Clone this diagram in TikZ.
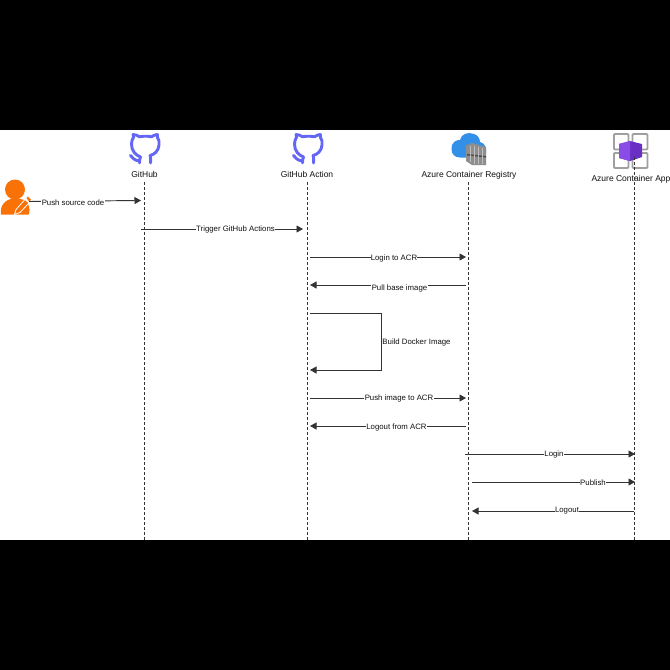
\documentclass[tikz,border=0pt]{standalone}
\usepackage{fontspec}
\setmainfont{Liberation Sans}
\usetikzlibrary{arrows.meta}
\definecolor{ghblue}{HTML}{6466F5}
\definecolor{userorange}{HTML}{F97208}
\definecolor{cloudblue}{HTML}{3290E8}
\definecolor{boxgrey}{HTML}{8E8E8E}
\definecolor{framegrey}{HTML}{A0A0A0}
\definecolor{cubelight}{HTML}{8A4CE6}
\definecolor{cubedark}{HTML}{6A30C4}
\definecolor{textgrey}{HTML}{111111}
\tikzset{
  lifeline/.style={draw=black!80,line width=0.8pt,dash pattern=on 2.5pt off 2.5pt},
  msg/.style={draw=black!80,line width=0.95pt,-{Triangle[length=6.5pt,width=7pt]}},
  lbl/.style={font=\fontsize{7.8}{10}\selectfont,text=textgrey,fill=white,inner sep=0.3pt},
  actor/.style={font=\fontsize{8.5}{10}\selectfont,text=textgrey,inner sep=0pt},
  ghstroke/.style={draw=ghblue,line width=2.9pt,line cap=round,line join=round},
}
\newcommand{\ghicon}[2]{%
  \begin{scope}[shift={(#1,#2)}]
    \draw[ghstroke] (10,24) .. controls (5,22) and (1,18) .. (1,11) .. controls (1,8) and (2,6) .. (3,4.5) -- (2.6,1.5)
      .. controls (5,1.5) and (7,2.5) .. (9,3.8) .. controls (12,3) and (18,3) .. (21,3.8) .. controls (23,2.5) and (25,1.5) .. (26.8,1.5)
      -- (27,4.5) .. controls (28.5,6.5) and (29,9) .. (28.5,12) .. controls (28,18) and (24,21.5) .. (19.5,22.5)
      .. controls (20.5,24) and (20.2,26) .. (20,30);
    \draw[ghstroke] (10,24) .. controls (9,26) and (9,28) .. (9,30);
    \draw[ghstroke] (0,22.5) .. controls (2,25) and (4,27.5) .. (9,28);
  \end{scope}}
\begin{document}
\begin{tikzpicture}[x=1pt,y=-1pt]
\useasboundingbox (0,0) rectangle (670,670);
\fill[black] (0,0) rectangle (670,670);
\fill[white] (0,130) rectangle (670,540);

% lifelines
\coordinate (gbTop) at (144,182);   \coordinate (gbEnd) at (144,540);
\coordinate (gaTop) at (307,182);   \coordinate (gaEnd) at (307,540);
\coordinate (acrTop) at (468,182);  \coordinate (acrEnd) at (468,540);
\coordinate (appTop) at (634,157);  \coordinate (appEnd) at (634,540);

% icons
\ghicon{130.5}{133}
\ghicon{293.5}{133}

% user
\fill[userorange] (15,189.5) circle (10);
\fill[userorange] (1,214.5) .. controls (-0.5,206) and (5,198.5) .. (15,198.5)
  .. controls (22,198.5) and (26,200) .. (28,204) .. controls (30,208) and (30,212) .. (28.5,214.5) -- cycle;
\filldraw[draw=white,fill=userorange,line width=0.8pt] (14.5,214.5) -- (16,209.5) -- (25,199.5) -- (29,203) -- (20,212.5) -- cycle;
\fill[userorange] (26.5,198) -- (28,196.5) -- (31,199.5) -- (29.5,202) -- cycle;

% registry
\fill[cloudblue] (451.5,149) .. controls (451,143) and (456,139.5) .. (460,140)
  .. controls (461,134) and (468,131.5) .. (474,134) .. controls (478,135) and (480,139) .. (480,142)
  .. controls (485,143) and (487,148) .. (486,154) -- (485,158) -- (460,157.5) .. controls (454.5,157.5) and (451.5,154) .. (451.5,149) -- cycle;
\fill[boxgrey] (466,145.5) -- (472,143) -- (486,147) -- (486,165) -- (472,165) -- (466,161) -- cycle;
\fill[black!70] (467,154) -- (486,156) -- (486,157.5) -- (467,155.5) -- cycle;
\draw[black!25,line width=0.3pt] (470,146) -- (470,162) (474,146) -- (474,164) (478,147) -- (478,164) (482,148) -- (482,164);

% container app
\draw[framegrey,line width=1.9pt,rounded corners=1pt] (614,134) rectangle (628.5,149.5);
\draw[framegrey,line width=1.9pt,rounded corners=1pt] (632.5,134) rectangle (647.5,149.5);
\draw[framegrey,line width=1.9pt,rounded corners=1pt] (614,153) rectangle (628.5,168);
\draw[framegrey,line width=1.9pt,rounded corners=1pt] (632.5,153) rectangle (647.5,168);
\fill[cubedark] (619,144) -- (630,141) -- (642,144) -- (642,157) -- (630,161) -- (619,158) -- cycle;
\fill[cubelight] (619,144) -- (630,141) -- (630,161) -- (619,158) -- cycle;

% actor labels
\node[actor] (gb) at (144.5,174.5) {GitHub};
\node[actor] (ga) at (307,174.5) {GitHub Action};
\node[actor] (acr) at (469,174.8) {Azure Container Registry};
\node[actor] (app) at (631,179) {Azure Container App};

\draw[lifeline] (gbTop) -- (gbEnd);
\draw[lifeline] (gaTop) -- (gaEnd);
\draw[lifeline] (acrTop) -- (acrEnd);
\draw[lifeline] (appTop) -- (appEnd);

% message end points
\coordinate (userR) at (29,201.5);   \coordinate (m1e) at (141,200.5);
\coordinate (m2s) at (141,229);      \coordinate (m2e) at (303,229);
\coordinate (m3s) at (310,257);      \coordinate (m3e) at (466,257);
\coordinate (m4s) at (466,285);      \coordinate (m4e) at (310,285);
\coordinate (m5s) at (310,313);      \coordinate (m5a) at (381,313);
\coordinate (m5b) at (381,370);      \coordinate (m5e) at (310,370);
\coordinate (m6s) at (310,398);      \coordinate (m6e) at (466,398);
\coordinate (m7s) at (466,426);      \coordinate (m7e) at (310,426);
\coordinate (m8s) at (465,454);      \coordinate (m8e) at (635,454);
\coordinate (m9s) at (472,482);      \coordinate (m9e) at (635,482);
\coordinate (m10s) at (634,511);     \coordinate (m10e) at (472,511);

\draw[msg] (userR) -- (m1e);
\draw[msg] (m2s) -- (m2e);
\draw[msg] (m3s) -- (m3e);
\draw[msg] (m4s) -- (m4e);
\draw[msg] (m5s) -- (m5a) -- (m5b) -- (m5e);
\draw[msg] (m6s) -- (m6e);
\draw[msg] (m7s) -- (m7e);
\draw[msg] (m8s) -- (m8e);
\draw[msg] (m9s) -- (m9e);
\draw[msg] (m10s) -- (m10e);

\node[lbl] (l1) at (73,202.8) {Push source code};
\node[lbl] (l2) at (235.5,229.2) {Trigger GitHub Actions};
\node[lbl] (l3) at (394,258.6) {Login to ACR};
\node[lbl] (l4) at (399.5,288) {Pull base image};
\node[lbl] (l5) at (416.5,342.6) {Build Docker Image};
\node[lbl] (l6) at (399,398.6) {Push image to ACR};
\node[lbl] (l7) at (396.5,427) {Logout from ACR};
\node[lbl] (l8) at (554,454.6) {Login};
\node[lbl] (l9) at (593,482.6) {Publish};
\node[lbl] (l10) at (567,510.6) {Logout};
\end{tikzpicture}
\end{document}
